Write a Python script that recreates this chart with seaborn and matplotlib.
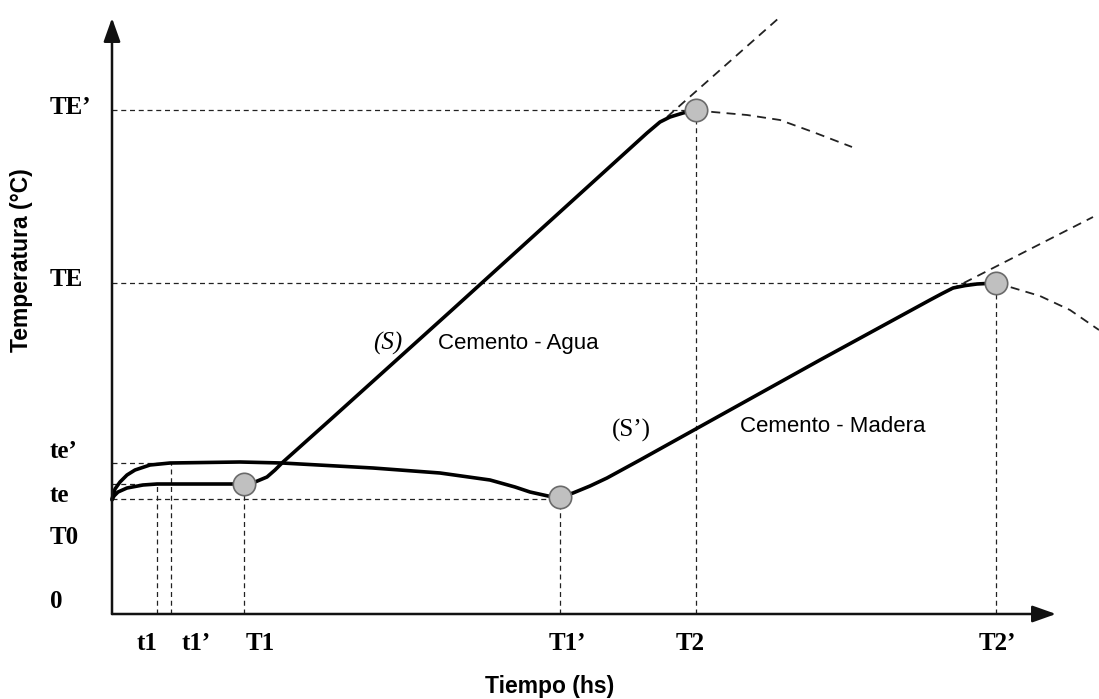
import numpy as np
import pandas as pd
import matplotlib
matplotlib.use("Agg")
import matplotlib.pyplot as plt
import seaborn as sns

sns.set_theme(style="white")
plt.rcParams["font.family"] = ["Liberation Sans", "DejaVu Sans"]
plt.rcParams["text.color"] = "black"

# ---------------- data (schematic units: time t, temperature T) ----------------
# characteristic times
t_names = ["t1", "t1\u2019", "T1", "T1\u2019", "T2", "T2\u2019"]
t_vals = [2.25, 2.95, 6.6, 22.4, 29.2, 44.2]
# characteristic temperatures
temp_names = ["TE\u2019", "TE", "te\u2019", "te", "T0", "0"]
temp_vals = [126.0, 82.75, 37.75, 32.5, 28.75, 0.0]

# curve (S) Cemento - Agua
s_time = [0, 0.1, 0.3, 0.75, 1.55, 2.25, 6.6, 7.15, 7.75, 8.15, 8.55, 10.9,
          17.0, 26.75, 27.4, 27.9, 28.55, 29.2]
s_temp = [28.5, 29.5, 30.5, 31.5, 32.25, 32.5, 32.5, 33.0, 34.25, 36.0, 38.0,
          48.5, 76.0, 120.25, 123.0, 124.25, 125.25, 126.0]

# curve (S') Cemento - Madera
sp_time = [0, 0.15, 0.4, 0.75, 1.15, 1.9, 2.9, 6.4, 8.5, 13.05, 16.4, 18.9,
           20.15, 20.9, 21.8, 22.4, 23.05, 23.9, 24.75, 26.4, 35.4, 40.9, 41.5,
           42.05, 42.65, 43.25, 44.2]
sp_temp = [28.75, 31.25, 33.0, 34.75, 36.0, 37.25, 37.75, 38.0, 37.75, 36.5,
           35.25, 33.5, 31.75, 30.5, 29.5, 29.25, 30.25, 32.0, 34.0, 38.5, 63.5,
           78.5, 80.1, 81.5, 82.1, 82.5, 82.75]

# marked points (circles)
pt_time = [6.6, 22.4, 29.2, 44.2]
pt_temp = [32.5, 29.25, 126.0, 82.75]

# extrapolation (tangent) and decline dashed curves
tanS_time = [27.75, 33.4]
tanS_temp = [124.25, 149.25]
decS_time = [29.2, 30.05, 31.75, 33.4, 35.05, 37.0]
decS_temp = [126.0, 125.5, 124.75, 123.5, 120.5, 116.75]
tanSp_time = [41.9, 49.05]
tanSp_temp = [81.0, 99.25]
decSp_time = [44.2, 44.9, 46.4, 47.9, 49.35]
decSp_temp = [82.75, 81.75, 79.5, 76.0, 71.0]

# ---------------- figure ----------------
fig = plt.figure(figsize=(10.99, 6.99), dpi=100)
ax = fig.add_axes([0, 0, 1, 1])
ax.set_xlim(-5.6, 49.35)
ax.set_ylim(-21.25, 153.5)
ax.axis("off")

# guide lines (thin dashed)
T_TEp, T_TE, T_tep, T_te, T_T0, _ = temp_vals
t1, t1p, T1, T1p, T2, T2p = t_vals
segs = [
    ([0, T2], [T_TEp, T_TEp]),
    ([0, T2p], [T_TE, T_TE]),
    ([0, t1p], [T_tep, T_tep]),
    ([0, t1], [T_te, T_te]),
    ([0, T1p], [T_T0, T_T0]),
    ([t1, t1], [0, T_te]),
    ([t1p, t1p], [0, T_tep]),
    ([T1, T1], [0, T_te]),
    ([T1p, T1p], [0, pt_temp[1]]),
    ([T2, T2], [0, T_TEp]),
    ([T2p, T2p], [0, T_TE]),
]
rows = []
for i, (xs, ys) in enumerate(segs):
    for xv, yv in zip(xs, ys):
        rows.append({"seg": i, "t": xv, "T": yv})
guides = pd.DataFrame(rows)
sns.lineplot(data=guides, x="t", y="T", units="seg", estimator=None, sort=False,
             color="#222222", lw=0.9, linestyle=(0, (4, 3)), ax=ax, zorder=1)

# extrapolation dashed curves
ext_rows = []
for i, (xs, ys) in enumerate([(tanS_time, tanS_temp), (decS_time, decS_temp),
                              (tanSp_time, tanSp_temp), (decSp_time, decSp_temp)]):
    for xv, yv in zip(xs, ys):
        ext_rows.append({"seg": i, "t": xv, "T": yv})
ext = pd.DataFrame(ext_rows)
sns.lineplot(data=ext, x="t", y="T", units="seg", estimator=None, sort=False,
             color="#222222", lw=1.3, linestyle=(0, (5, 3.5)), ax=ax, zorder=1)

# main curves
for xs, ys in [(s_time, s_temp), (sp_time, sp_temp)]:
    sns.lineplot(x=xs, y=ys, sort=False, estimator=None, color="black",
                 lw=2.6, ax=ax, zorder=3, solid_joinstyle="round",
                 solid_capstyle="round")

# circles
sns.scatterplot(x=pt_time, y=pt_temp, s=260, color="#c0c0c0", edgecolor="#6a6a6a",
                linewidth=1.2, ax=ax, zorder=4)

# axes with arrows
for tip in [(47.2, 0), (0, 149.0)]:
    ax.annotate("", xy=tip, xytext=(0, 0),
                arrowprops=dict(arrowstyle="-|>,head_length=0.9,head_width=0.32",
                                lw=1.8, color="#111111", shrinkA=0, shrinkB=0,
                                mutation_scale=16), zorder=5)

# tick-like labels
serif_bold = dict(family=["Liberation Serif", "DejaVu Serif"], fontweight="bold",
                  fontsize=18, color="black")
left_label_y = [126.5, 83.5, 40.5, 29.75, 19.25, 3.0]
for name, yv in zip(temp_names, left_label_y):
    ax.text(-3.1, yv, name, ha="left", va="center", **serif_bold)
bottom_label_x = [1.75, 4.2, 7.4, 22.75, 28.9, 44.25]
for name, xv in zip(t_names, bottom_label_x):
    ax.text(xv, -7.25, name, ha="center", va="center", **serif_bold)

# axis titles
ax.text(-4.5, 88.5, "Temperatura (\u00b0C)", rotation=90, ha="center", va="center",
        fontsize=16.5, fontweight="bold", color="black",
        family=["Liberation Sans", "DejaVu Sans"])
ax.text(21.9, -18.25, "Tiempo (hs)", ha="center", va="center",
        fontsize=16.5, fontweight="bold", color="black",
        family=["Liberation Sans", "DejaVu Sans"])

# curve annotations
ax.text(13.8, 67.75, "(S)", ha="center", va="center", fontsize=18, color="black",
        family=["Liberation Serif", "DejaVu Serif"], style="italic")
ax.text(16.3, 67.75, "Cemento - Agua", ha="left", va="center", fontsize=16,
        color="black", family=["Liberation Sans", "DejaVu Sans"])
ax.text(25.95, 46.0, "(S\u2019)", ha="center", va="center", fontsize=18,
        color="black", family=["Liberation Serif", "DejaVu Serif"])
ax.text(31.4, 46.75, "Cemento - Madera", ha="left", va="center", fontsize=16,
        color="black", family=["Liberation Sans", "DejaVu Sans"])

fig.savefig("out.png", dpi=100, facecolor="white")
